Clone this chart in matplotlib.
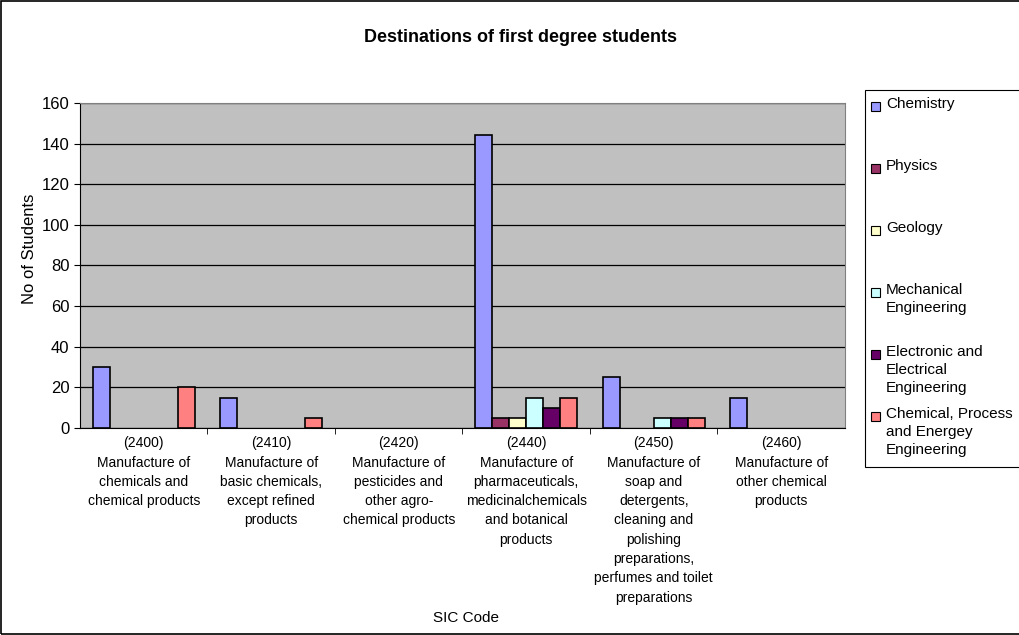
import matplotlib.pyplot as plt
import numpy as np
from matplotlib.patches import Rectangle

plt.rcParams['font.family'] = ['Liberation Sans', 'DejaVu Sans']

# SIC code groups
categories = [
    "(2400)\nManufacture of\nchemicals and\nchemical products",
    "(2410)\nManufacture of\nbasic chemicals,\nexcept refined\nproducts",
    "(2420)\nManufacture of\npesticides and\nother agro-\nchemical products",
    "(2440)\nManufacture of\npharmaceuticals,\nmedicinalchemicals\nand botanical\nproducts",
    "(2450)\nManufacture of\nsoap and\ndetergents,\ncleaning and\npolishing\npreparations,\nperfumes and toilet\npreparations",
    "(2460)\nManufacture of\nother chemical\nproducts",
]

series_names = [
    "Chemistry",
    "Physics",
    "Geology",
    "Mechanical\nEngineering",
    "Electronic and\nElectrical\nEngineering",
    "Chemical, Process\nand Energey\nEngineering",
]

chemistry = [30, 15, 0, 144, 25, 15]
physics = [0, 0, 0, 5, 0, 0]
geology = [0, 0, 0, 5, 0, 0]
mechanical = [0, 0, 0, 15, 5, 0]
electronic = [0, 0, 0, 10, 5, 0]
chemical_eng = [20, 5, 0, 15, 5, 0]

values = [chemistry, physics, geology, mechanical, electronic, chemical_eng]
colors = ["#9999FF", "#993366", "#FFFFCC", "#CCFFFF", "#660066", "#FF8080"]

fig = plt.figure(figsize=(10.2, 6.35), dpi=100)
ax = fig.add_axes([0.0784, 0.326, 0.7500, 0.512])
ax.set_facecolor("#C0C0C0")

x = np.arange(len(categories))
w = 1 / 7.5
for i, (vals, col) in enumerate(zip(values, colors)):
    mask = np.array(vals) > 0
    ax.bar(x[mask] + (i - 2.5) * w, np.array(vals)[mask], width=w,
           color=col, edgecolor="black", linewidth=1.2, zorder=3)

ax.set_xlim(-0.5, len(categories) - 0.5)
ax.set_ylim(0, 160)
ax.set_yticks(range(0, 161, 20))
ax.yaxis.grid(True, color="black", linewidth=0.9)
ax.set_axisbelow(True)
ax.tick_params(axis="y", labelsize=12, direction="out", length=4)

# category labels centred, tick marks on the group boundaries
ax.set_xticks(x)
ax.set_xticklabels(categories, fontsize=10, linespacing=1.48)
ax.tick_params(axis="x", which="major", length=0, pad=6)
ax.set_xticks(np.arange(0.5, len(categories) - 0.5), minor=True)
ax.tick_params(axis="x", which="minor", length=4, direction="out")

for s in ["top", "right"]:
    ax.spines[s].set_color("#808080")
for s in ["left", "bottom"]:
    ax.spines[s].set_color("black")

ax.set_ylabel("No of Students", fontsize=12, labelpad=0)
ax.yaxis.set_label_coords(-0.056, 0.55)
fig.text(466 / 1020, 1 - 618 / 635, "SIC Code", ha="center", va="center", fontsize=11)
fig.text(0.51, 1 - 38 / 635, "Destinations of first degree students",
         ha="center", va="center", fontsize=13, fontweight="bold")

# legend box with evenly spaced entries
fig.patches.append(Rectangle((865 / 1020, 1 - 467 / 635), 0.2, 377 / 635,
                             transform=fig.transFigure, facecolor="white",
                             edgecolor="black", linewidth=0.8))
for i, (name, col) in enumerate(zip(series_names, colors)):
    ytop = 1 - (101 + i * 62) / 635
    fig.patches.append(Rectangle((871 / 1020, ytop - 10 / 635), 9 / 1020, 9 / 635,
                                 transform=fig.transFigure, facecolor=col,
                                 edgecolor="black", linewidth=0.8))
    fig.text(886 / 1020, ytop + 4 / 635, name, ha="left", va="top",
             fontsize=11, linespacing=1.35)

# outer frame
fig.patches.append(Rectangle((0.001, 0.0015), 1.2, 0.997,
                             transform=fig.transFigure, fill=False,
                             edgecolor="black", linewidth=1.2))

fig.savefig("out.png", dpi=100)
